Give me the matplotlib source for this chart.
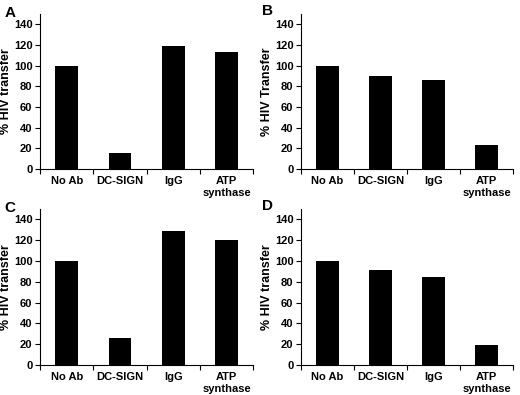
import matplotlib.pyplot as plt
import numpy as np

plt.rcParams['font.family'] = ['Liberation Sans', 'DejaVu Sans']
plt.rcParams['font.weight'] = 'bold'

categories = ["No Ab", "DC-SIGN", "IgG", "ATP\nsynthase"]
values_a = [100, 16, 119, 113]
values_b = [100, 89.5, 86, 23]
values_c = [100, 25.5, 129, 120.5]
values_d = [100, 91, 84.5, 19]
panel_letters = ["A", "B", "C", "D"]
ylabels = ["% HIV transfer", "% HIV Transfer", "% HIV transfer", "% HIV transfer"]

fig = plt.figure(figsize=(5.2, 3.95), dpi=100)

# axes rectangles in figure fraction
boxes = [
    [0.077, 0.572, 0.410, 0.393],
    [0.579, 0.572, 0.408, 0.393],
    [0.077, 0.076, 0.410, 0.395],
    [0.579, 0.076, 0.408, 0.395],
]
letter_pos = [(0.008, 0.985), (0.503, 0.99), (0.008, 0.49), (0.503, 0.495)]

for vals, box, letter, lp, ylab in zip([values_a, values_b, values_c, values_d],
                                       boxes, panel_letters, letter_pos, ylabels):
    ax = fig.add_axes(box)
    x = np.arange(len(categories)) + 0.5
    ax.bar(x, vals, width=0.43, color="black")
    ax.set_xlim(0, 4)
    ax.set_ylim(0, 150)
    ax.set_yticks(np.arange(0, 141, 20))
    ax.set_xticks(np.arange(0, 5))
    ax.set_xticklabels([])
    ax.set_xticks(x, minor=True)
    ax.set_xticklabels(categories, minor=True, fontsize=8, fontweight="bold",
                       linespacing=1.25)
    ax.tick_params(axis="x", which="minor", length=0, pad=5)
    ax.tick_params(axis="x", which="major", length=3.5, direction="out")
    ax.tick_params(axis="y", length=3.5, direction="out", labelsize=8, pad=2)
    for lab in ax.get_yticklabels():
        lab.set_fontweight("bold")
    ax.spines["top"].set_visible(False)
    ax.spines["right"].set_visible(False)
    ax.set_ylabel(ylab, fontsize=9, fontweight="bold", labelpad=1)
    fig.text(lp[0], lp[1], letter, fontsize=11, fontweight="bold",
             va="top", ha="left")

fig.savefig("out.png", dpi=100)
